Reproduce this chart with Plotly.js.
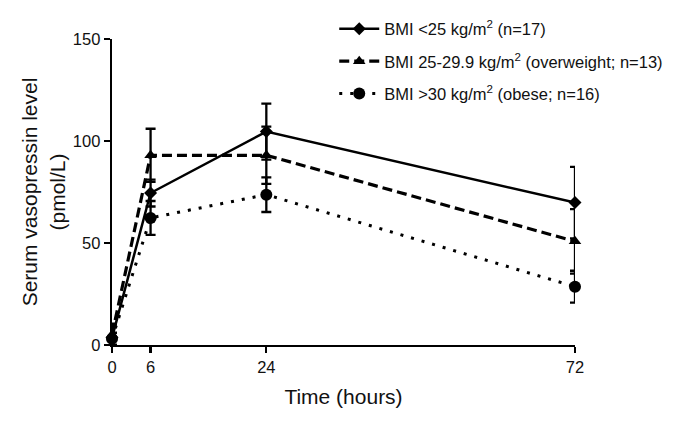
<!DOCTYPE html>
<html>
<head>
<meta charset="utf-8">
<script src="https://cdn.plot.ly/plotly-3.0.1.min.js"></script>
<style>html,body{margin:0;padding:0;background:#fff;}#chart{width:685px;height:424px;}</style>
</head>
<body>
<div id="chart"></div>
<script>
const timeHours = [0, 6, 24, 72];
const xTickLabels = ["0", "6", "24", "72"];

const normalName = "BMI <25 kg/m<sup>2</sup> (n=17)";
const normalMean = [3.5, 74.5, 104.6, 69.8];
const normalErr = [7, 6.6, 13.7, 17.5];

const overName = "BMI 25-29.9 kg/m<sup>2</sup> (overweight; n=13)";
const overMean = [5, 93, 93, 50.8];
const overErr = [5, 13, 14, 15.8];

const obeseName = "BMI >30 kg/m<sup>2</sup> (obese; n=16)";
const obeseMean = [3, 62.3, 73.7, 28.6];
const obeseErr = [3, 8.3, 8.5, 7.8];

const font = "Liberation Sans, Arial, sans-serif";

function trace(name, group, y, err, symbol, size, dash, width) {
  return {
    x: timeHours, y: y, name: name, legendgroup: group, type: "scatter", mode: "lines+markers",
    cliponaxis: false,
    line: {color: "#000", width: width, dash: dash},
    marker: {symbol: symbol, size: size, color: "#000"},
    error_y: {type: "data", array: err, visible: true, color: "#000", thickness: 2.3, width: 5}
  };
}

const data = [
  trace(normalName, "g1", normalMean, normalErr, "diamond", 10, "solid", 2.5),
  trace(overName, "g2", overMean, overErr, "triangle-up", 11, "10px,5px", 3.2),
  trace(obeseName, "g3", obeseMean, obeseErr, "circle", 12, "3px,8px", 3)
];

const layout = {
  width: 685, height: 424,
  margin: {l: 112, r: 110, t: 36, b: 79},
  paper_bgcolor: "#fff", plot_bgcolor: "#fff",
  font: {family: font, color: "#111", size: 16.5},
  showlegend: true,
  legend: {
    x: 0.48, y: 1.09, xanchor: "left", yanchor: "top",
    font: {family: font, size: 16.5, color: "#111"},
    bgcolor: "rgba(0,0,0,0)", tracegroupgap: 8, itemwidth: 40,
    traceorder: "grouped"
  },
  xaxis: {
    range: [0, 72], tickmode: "array", tickvals: timeHours, ticktext: xTickLabels,
    showgrid: false, zeroline: false, showline: true, linecolor: "#000", linewidth: 2.3,
    ticks: "outside", ticklen: 6, tickwidth: 2.3, tickcolor: "#000",
    tickfont: {family: font, size: 16.5, color: "#111"},
    title: {text: "Time (hours)", font: {family: font, size: 21, color: "#111"}, standoff: 14}
  },
  yaxis: {
    range: [0, 150], tickmode: "array", tickvals: [0, 50, 100, 150],
    showgrid: false, zeroline: false, showline: true, linecolor: "#000", linewidth: 2.3,
    ticks: "outside", ticklen: 6, tickwidth: 2.3, tickcolor: "#000",
    tickfont: {family: font, size: 16.5, color: "#111"},
    title: {text: "Serum vasopressin level<br>(pmol/L)", font: {family: font, size: 21, color: "#111"}, standoff: 2}
  }
};

Plotly.newPlot("chart", data, layout, {displayModeBar: false, staticPlot: true});
</script>
</body>
</html>
